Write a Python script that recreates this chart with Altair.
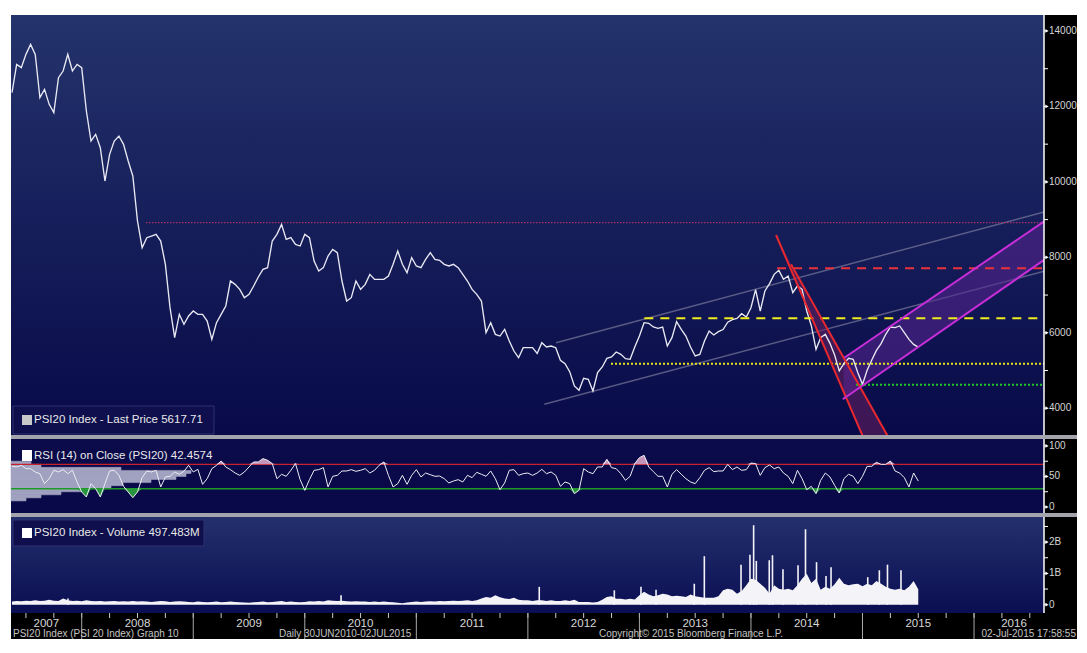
import altair as alt
import pandas as pd

# ------------------------------------------------------------------ data
# semi-monthly samples, starting mid-May 2007
T_FIRST = 2007.375
T_STEP = 1 / 24

PRICE = [
    12365, 13116, 13028, 13381, 13646, 13381, 12232, 12453, 12056, 11835,
    12763, 12939, 13381, 12939, 13116, 13028, 11879, 11084, 11260, 10907,
    10023, 10730, 11084, 11216, 10995, 10553, 10156, 8963, 8256, 8521,
    8565, 8609, 8433, 7814, 6665, 5870, 6489, 6223, 6444, 6577,
    6489, 6489, 6312, 5826, 6268, 6489, 6710, 7372, 7284, 7151,
    6930, 7019, 7240, 7478, 7681, 7726, 8433, 8609, 8874, 8477,
    8521, 8344, 8300, 8609, 8521, 7902, 7637, 7726, 8035, 8212,
    8123, 7372, 6842, 6930, 7372, 7151, 7284, 7549, 7416, 7416,
    7416, 7505, 7814, 8168, 7814, 7593, 7991, 7770, 7726, 7947,
    8123, 7947, 7920, 7814, 7770, 7814, 7726, 7549, 7372, 7151,
    7019, 6842, 6002, 6267, 5958, 5914, 6091, 5782, 5516, 5340,
    5605, 5605, 5605, 5450, 5738, 5623, 5649, 5605, 5269, 5181,
    4969, 4589, 4474, 4792, 4766, 4456, 4942, 5093, 5323, 5358,
    5490, 5428, 5314, 5296, 5623, 5914, 6268, 6250, 6153, 6118,
    6153, 5649, 5870, 6294, 6091, 5914, 5623, 5384, 5428, 5782,
    6047, 5941, 6029, 6085, 6280, 6350, 6380, 6506, 6418, 6665,
    7143, 6577, 7107, 7302, 7549, 7655, 7417, 7505, 7063, 7240,
    7152, 6577, 6180, 5561, 5870, 5959, 5720, 5411, 4987, 5181,
    5322, 5296, 4942, 4633, 5004, 5278, 5534, 5711, 5959, 6153,
    6135, 6180, 6003, 5826, 5693, 5617.71,
]

RSI = [
    66.7, 65.6, 68.3, 62.8, 62.8, 57.4, 54.6, 38.3, 46.4, 60.1,
    57.4, 61.2, 54.6, 60.1, 41.0, 24.6, 16.4, 38.3, 30.1, 16.4,
    38.3, 59.0, 60.1, 51.9, 33.9, 24.6, 15.3, 24.6, 48.1, 59.0,
    57.4, 60.1, 32.8, 49.2, 50.3, 57.4, 53.6, 58.5, 68.3, 57.4,
    61.7, 37.2, 46.4, 62.8, 68.3, 75.4, 65.6, 61.2, 55.7, 51.9,
    57.4, 65.6, 73.8, 73.8, 79.3, 76.5, 71.1, 46.4, 53.6, 50.3,
    60.1, 71.1, 44.8, 27.3, 44.8, 60.1, 61.2, 64.5, 32.8, 50.3,
    51.9, 59.0, 59.0, 61.2, 58.5, 60.1, 62.8, 55.7, 60.1, 68.3,
    73.8, 51.9, 32.8, 38.3, 51.9, 37.2, 51.9, 61.2, 49.2, 55.7,
    53.0, 50.3, 50.8, 46.4, 39.4, 42.6, 44.8, 41.0, 51.9, 48.1,
    56.8, 53.6, 50.3, 59.0, 46.4, 28.4, 39.4, 60.1, 61.2, 51.9,
    54.6, 55.7, 51.9, 55.7, 61.7, 54.6, 57.4, 51.9, 33.9, 41.0,
    38.3, 21.9, 27.3, 62.8, 57.4, 54.6, 65.6, 65.6, 78.1, 64.5,
    62.8, 54.6, 43.7, 50.3, 71.1, 80.9, 84.7, 65.6, 57.9, 50.3,
    50.3, 32.8, 53.6, 61.2, 53.6, 46.4, 41.0, 38.3, 48.1, 60.1,
    64.5, 57.9, 59.0, 59.0, 69.9, 61.2, 65.6, 60.1, 61.2, 72.1,
    71.1, 51.9, 64.5, 68.9, 62.8, 65.6, 55.7, 50.3, 38.3, 60.1,
    46.4, 28.4, 33.9, 21.9, 43.7, 55.7, 49.2, 35.5, 22.9, 46.4,
    53.6, 50.3, 38.3, 50.3, 66.7, 66.7, 73.2, 69.9, 69.9, 75.4,
    59.0, 55.7, 48.1, 32.8, 55.7, 42.4574,
]

VOLUME_B = [
    0.10, 0.12, 0.11, 0.13, 0.12, 0.14, 0.12, 0.13, 0.16, 0.13,
    0.12, 0.20, 0.14, 0.12, 0.13, 0.11, 0.14, 0.12, 0.11, 0.12,
    0.10, 0.11, 0.12, 0.10, 0.11, 0.10, 0.12, 0.10, 0.11, 0.10,
    0.09, 0.10, 0.12, 0.11, 0.09, 0.10, 0.11, 0.10, 0.09, 0.08,
    0.10, 0.09, 0.08, 0.09, 0.10, 0.08, 0.09, 0.10, 0.09, 0.08,
    0.07, 0.06, 0.08, 0.09, 0.10, 0.08, 0.09, 0.10, 0.12, 0.09,
    0.10, 0.09, 0.08, 0.09, 0.11, 0.10, 0.12, 0.10, 0.14, 0.13,
    0.12, 0.13, 0.11, 0.10, 0.11, 0.10, 0.10, 0.09, 0.10, 0.09,
    0.10, 0.09, 0.08, 0.06, 0.05, 0.07, 0.09, 0.10, 0.09, 0.10,
    0.11, 0.10, 0.12, 0.11, 0.12, 0.13, 0.12, 0.13, 0.14, 0.12,
    0.14, 0.20, 0.25, 0.22, 0.30, 0.24, 0.20, 0.18, 0.22, 0.16,
    0.14, 0.14, 0.12, 0.14, 0.14, 0.12, 0.14, 0.12, 0.12, 0.14,
    0.12, 0.16, 0.09, 0.09, 0.09, 0.07, 0.09, 0.16, 0.25, 0.27,
    0.19, 0.19, 0.17, 0.19, 0.17, 0.30, 0.41, 0.33, 0.27, 0.30,
    0.35, 0.33, 0.27, 0.29, 0.27, 0.25, 0.33, 0.27, 0.25, 0.22,
    0.22, 0.22, 0.27, 0.46, 0.51, 0.48, 0.35, 0.44, 0.62, 0.83,
    0.80, 0.67, 0.54, 0.35, 0.62, 0.51, 0.48, 0.51, 0.46, 0.62,
    0.83, 0.99, 0.69, 0.83, 0.48, 0.57, 0.51, 0.65, 0.86, 0.67,
    0.62, 0.65, 0.67, 0.59, 0.67, 0.62, 0.76, 0.67, 0.57, 0.51,
    0.48, 0.51, 0.46, 0.57, 0.76, 0.497483,
]

# single-day volume spikes (year, billions)
SPIKE_T = [2007.877, 2010.325, 2012.102, 2012.775, 2013.014, 2013.149, 2013.492, 2013.582,
           2013.911, 2013.991, 2014.024, 2014.048, 2014.164, 2014.193, 2014.287, 2014.422,
           2014.489, 2014.588, 2014.673, 2014.718, 2015.047, 2015.151, 2015.224, 2015.345]
SPIKE_B = [0.20, 0.30, 0.57, 0.46, 0.57, 0.48, 0.67, 1.55,
           1.28, 1.60, 2.54, 1.40, 1.42, 1.58, 1.13, 1.26,
           2.41, 1.36, 0.92, 1.20, 0.88, 1.10, 1.28, 1.10]

# RSI distribution histogram (bin start, relative day count)
RSI_HIST_LO = [10, 15, 20, 25, 30, 35, 40, 45, 50, 55, 60, 65, 70]
RSI_HIST_DAYS = [15, 30, 50, 70, 100, 112, 140, 165, 175, 180, 110, 30, 20]

# horizontal studies (start year, level)
LVL_2009_HIGH = (2008.576, 8920)
LVL_YELLOW_DASH = (2013.044, 6384)
LVL_YELLOW_DOT = (2012.745, 5180)
LVL_RED_DASH = (2014.234, 7709)
LVL_GREEN_DOT = (2014.942, 4624)

# trend lines (t1, v1, t2, v2)
GREY_UP = (2012.252, 5737, 2016.717, 9273)
GREY_LO = (2012.147, 4104, 2016.717, 7701)
RED_A = (2014.225, 8592, 2015.040, 3000)
RED_B = (2014.359, 7815, 2015.276, 3000)
MAG_UP = (2014.837, 5339, 2016.717, 9130)
MAG_LO = (2014.823, 4237, 2016.717, 8115)
RED_FILL_V = [3000, 7815, 8592]
RED_FILL_LEFT = [2015.040, 2014.338, 2014.225]
RED_FILL_RIGHT = [2015.276, 2014.359, 2014.225]
MAG_FILL_T = [2014.83, 2016.717]
MAG_FILL_LO = [4237, 8115]
MAG_FILL_HI = [5339, 9130]

# right-hand axes
MAIN_TICKS = [4000, 5000, 6000, 7000, 8000, 9000, 10000, 11000, 12000, 13000, 14000]
MAIN_TICK_LABELS = ["4000", "", "6000", "", "8000", "", "10000", "", "12000", "", "14000"]
RSI_TICKS = [0, 25, 50, 75, 100]
RSI_TICK_LABELS = ["0", "", "50", "", "100"]
VOL_TICKS = [0, 0.5, 1, 1.5, 2, 2.5]
VOL_TICK_LABELS = ["0", "", "1B", "", "2B", ""]

YEARS = [2007, 2008, 2009, 2010, 2011, 2012, 2013, 2014, 2015, 2016]
FOOTER = ["PSI20 Index (PSI 20 Index) Graph 10", "Daily 30JUN2010-02JUL2015",
          "Copyright\u00a9 2015 Bloomberg Finance L.P.", "02-Jul-2015 17:58:55"]

# ------------------------------------------------------------------ layout
PX_PER_YEAR = 111.54
X0 = 2007.366
T_EDGE = 2016.717
W = 1033          # plot area width
RIGHT = 1066      # right end of the frame
H_MAIN, H_RSI, H_VOL, H_AX = 420, 78, 100, 26
X_END = X0 + W / PX_PER_YEAR
FONT = "Liberation Sans"

df = pd.DataFrame({
    "t": [T_FIRST + i * T_STEP for i in range(len(PRICE))],
    "price": PRICE, "rsi": RSI, "vol": VOLUME_B,
})
one = pd.DataFrame({"k": [0]})

xs = alt.Scale(domain=[X0, X_END], nice=False, zero=False)
ys_main = alt.Scale(domain=[3290, 14424], nice=False, zero=False)
ys_rsi = alt.Scale(domain=[-9.84, 118.0], nice=False, zero=False)
ys_vol = alt.Scale(domain=[-0.265, 2.93], nice=False, zero=False)


def gradient_bg(width, height, top, bottom):
    return alt.Chart(one).mark_rect(
        fill=alt.Gradient(gradient="linear",
                          stops=[alt.GradientStop(color=top, offset=0),
                                 alt.GradientStop(color=bottom, offset=1)],
                          x1=0, x2=0, y1=0, y2=1)
    ).encode(x=alt.value(0), x2=alt.value(width), y=alt.value(0), y2=alt.value(height))


def right_axis(yscale, ticks, labels, height):
    d = pd.DataFrame({"v": ticks, "label": labels})
    major = d[d["label"] != ""]
    minor = d[d["label"] == ""]
    y = alt.Y("v:Q", scale=yscale, axis=None)
    return [
        alt.Chart(one).mark_rect(fill="#000000").encode(
            x=alt.value(W), x2=alt.value(RIGHT), y=alt.value(0), y2=alt.value(height)),
        alt.Chart(one).mark_rule(color="#ffffff", strokeWidth=1.5).encode(
            x=alt.value(W), y=alt.value(0), y2=alt.value(height)),
        alt.Chart(minor).mark_rule(color="#ffffff", strokeWidth=1).encode(
            y=y, x=alt.value(W), x2=alt.value(W + 4)),
        alt.Chart(major).mark_rule(color="#ffffff", strokeWidth=1).encode(
            y=y, x=alt.value(W), x2=alt.value(W + 3)),
        alt.Chart(major).mark_point(shape="triangle-right", filled=True, size=14, color="#ffffff",
                                    opacity=1).encode(y=y, x=alt.value(W + 3)),
        alt.Chart(major).mark_text(align="left", baseline="middle", font=FONT, fontSize=10,
                                   color="#d4d4d4").encode(
            y=y, x=alt.value(W + 5), text="label:N"),
    ]


def separator_band():
    return alt.Chart(one).mark_rect(fill="#a4a4ac").encode(
        x=alt.value(0), x2=alt.value(RIGHT), y=alt.value(0), y2=alt.value(4))


def segment(seg, color, width, yscale, dash=None, opacity=1.0):
    d = pd.DataFrame({"t1": [seg[0]], "v1": [seg[1]], "t2": [seg[2]], "v2": [seg[3]]})
    kw = dict(color=color, strokeWidth=width, clip=True, opacity=opacity)
    if dash:
        kw["strokeDash"] = dash
    return alt.Chart(d).mark_rule(**kw).encode(
        x=alt.X("t1:Q", scale=xs, axis=None), x2="t2:Q",
        y=alt.Y("v1:Q", scale=yscale, axis=None), y2="v2:Q")


def level(lv, color, width, dash):
    return segment((lv[0], lv[1], T_EDGE, lv[1]), color, width, ys_main, dash)


def legend(box, square, square_color, text, text_y):
    layers = []
    if box:
        layers.append(alt.Chart(one).mark_rect(fill="#0e0f4c", stroke="#2e3270", strokeWidth=1).encode(
            x=alt.value(box[0]), x2=alt.value(box[1]), y=alt.value(box[2]), y2=alt.value(box[3])))
    layers.append(alt.Chart(one).mark_rect(fill=square_color).encode(
        x=alt.value(square[0]), x2=alt.value(square[1]), y=alt.value(square[2]), y2=alt.value(square[3])))
    layers.append(alt.Chart(one).mark_text(align="left", baseline="middle", font=FONT, fontSize=11.5,
                                           color="#e8e8e8").encode(
        x=alt.value(23), y=alt.value(text_y), text=alt.value(text)))
    return layers


# ------------------------------------------------------------------ main price panel
red_fill = alt.Chart(pd.DataFrame({"v": RED_FILL_V, "l": RED_FILL_LEFT, "r": RED_FILL_RIGHT})).mark_area(
    orient="horizontal", color="#6a2060", opacity=0.55, clip=True).encode(
    y=alt.Y("v:Q", scale=ys_main, axis=None), x=alt.X("l:Q", scale=xs, axis=None), x2="r:Q")

mag_fill = alt.Chart(pd.DataFrame({"t": MAG_FILL_T, "lo": MAG_FILL_LO, "hi": MAG_FILL_HI})).mark_area(
    color="#5a2590", opacity=0.55, clip=True).encode(
    x=alt.X("t:Q", scale=xs, axis=None), y=alt.Y("lo:Q", scale=ys_main, axis=None), y2="hi:Q")

price_line = alt.Chart(df).mark_line(color="#e8e8f2", strokeWidth=1.35, clip=True).encode(
    x=alt.X("t:Q", scale=xs, axis=None),
    y=alt.Y("price:Q", scale=ys_main, axis=None))

main = alt.layer(
    gradient_bg(W, H_MAIN, "#24336c", "#080a48"),
    segment(GREY_UP, "#8a8aa8", 1.5, ys_main, opacity=0.6),
    segment(GREY_LO, "#8a8aa8", 1.5, ys_main, opacity=0.6),
    red_fill,
    mag_fill,
    level(LVL_2009_HIGH, "#a83268", 1.3, [1.5, 1.5]),
    level(LVL_YELLOW_DOT, "#e6e61e", 2, [2, 2]),
    level(LVL_GREEN_DOT, "#22cc22", 2, [2, 2]),
    price_line,
    level(LVL_YELLOW_DASH, "#f0ec18", 2, [9, 7]),
    level(LVL_RED_DASH, "#e8333a", 2, [9, 7]),
    segment(RED_A, "#e8282e", 2, ys_main),
    segment(RED_B, "#e8282e", 2, ys_main),
    segment(MAG_UP, "#c82ed8", 2, ys_main),
    segment(MAG_LO, "#c82ed8", 2, ys_main),
    *legend((2, 203, 391, 419), (11, 21, 400, 410), "#c8c8c8",
            f"PSI20 Index - Last Price {PRICE[-1]:.2f}", 405),
    *right_axis(ys_main, MAIN_TICKS, MAIN_TICK_LABELS, H_MAIN),
).properties(width=W, height=H_MAIN)

# ------------------------------------------------------------------ RSI panel
hist_df = pd.DataFrame({"lo": RSI_HIST_LO, "hi": [v + 5 for v in RSI_HIST_LO],
                        "d0": [0] * len(RSI_HIST_LO), "days": RSI_HIST_DAYS})
hist = alt.Chart(hist_df).mark_rect(color="#aeaecb", stroke="#aeaecb", strokeWidth=0.6,
                                    opacity=0.92).encode(
    x=alt.X("d0:Q", scale=alt.Scale(domain=[0, W], nice=False, zero=False), axis=None), x2="days:Q",
    y=alt.Y("lo:Q", scale=ys_rsi, axis=None), y2="hi:Q")


def hline(value, color, width):
    return alt.Chart(one).mark_rule(color=color, strokeWidth=width).encode(
        y=alt.Y(datum=value, scale=ys_rsi, axis=None), x=alt.value(0), x2=alt.value(W))


over = alt.Chart(df).transform_calculate(hi="max(datum.rsi, 70)").mark_area(
    color="#d8a2c6", opacity=0.9).encode(
    x=alt.X("t:Q", scale=xs, axis=None), y=alt.Y("hi:Q", scale=ys_rsi, axis=None), y2=alt.Y2(datum=70))
under = alt.Chart(df).transform_calculate(lo="min(datum.rsi, 30)").mark_area(
    color="#2a9c3c", opacity=0.95).encode(
    x=alt.X("t:Q", scale=xs, axis=None), y=alt.Y("lo:Q", scale=ys_rsi, axis=None), y2=alt.Y2(datum=30))

rsi_line = alt.Chart(df).mark_line(color="#ececf4", strokeWidth=1).encode(
    x=alt.X("t:Q", scale=xs, axis=None), y=alt.Y("rsi:Q", scale=ys_rsi, axis=None))

rsi_panel = alt.layer(
    gradient_bg(W, H_RSI, "#0b0b4a", "#09094a"),
    hist,
    hline(70, "#c8202c", 1.3),
    hline(30, "#1f9a28", 1.6),
    over, under,
    rsi_line,
    *right_axis(ys_rsi, RSI_TICKS, RSI_TICK_LABELS, H_RSI),
    separator_band(),
    *legend(None, (11, 21, 15, 26), "#ffffff", f"RSI (14) on Close (PSI20) {RSI[-1]:.4f}", 21),
).resolve_scale(x="independent").properties(width=W, height=H_RSI)

# ------------------------------------------------------------------ volume panel
vol_area = alt.Chart(df).mark_area(color="#f4f4f8").encode(
    x=alt.X("t:Q", scale=xs, axis=None),
    y=alt.Y("vol:Q", scale=ys_vol, axis=None), y2=alt.Y2(datum=0))
spikes = alt.Chart(pd.DataFrame({"t": SPIKE_T, "v": SPIKE_B})).mark_rule(
    color="#f4f4f8", strokeWidth=1.6).encode(
    x=alt.X("t:Q", scale=xs, axis=None), y=alt.Y("v:Q", scale=ys_vol, axis=None), y2=alt.Y2(datum=0))

vol_panel = alt.layer(
    gradient_bg(W, H_VOL, "#25316e", "#0a0e52"),
    vol_area, spikes,
    *right_axis(ys_vol, VOL_TICKS, VOL_TICK_LABELS, H_VOL),
    separator_band(),
    *legend((2, 193, 7, 33), (11, 21, 15, 25), "#ffffff",
            f"PSI20 Index - Volume {VOLUME_B[-1] * 1000:.3f}M", 20),
).properties(width=W, height=H_VOL)

# ------------------------------------------------------------------ time axis panel
xs_ax = alt.Scale(domain=[X0, X0 + RIGHT / PX_PER_YEAR], nice=False, zero=False)
quarters = [y + q / 4 for y in YEARS for q in range(4) if X0 <= y + q / 4 <= T_EDGE]
ax_bg = alt.Chart(one).mark_rect(fill="#000000").encode(
    x=alt.value(0), x2=alt.value(RIGHT), y=alt.value(0), y2=alt.value(H_AX))
q_ticks = alt.Chart(pd.DataFrame({"t": quarters})).mark_rule(color="#c8c8c8", strokeWidth=1).encode(
    x=alt.X("t:Q", scale=xs_ax, axis=None), y=alt.value(0), y2=alt.value(5))
y_seps = alt.Chart(pd.DataFrame({"t": YEARS[1:]})).mark_rule(color="#a8a8a8", strokeWidth=1).encode(
    x=alt.X("t:Q", scale=xs_ax, axis=None), y=alt.value(0), y2=alt.value(H_AX))
lab_df = pd.DataFrame({"t": [(max(y, X0) + min(y + 1, T_EDGE)) / 2 for y in YEARS],
                       "label": [str(y) for y in YEARS]})
y_labels = alt.Chart(lab_df).mark_text(font=FONT, fontSize=11.5, color="#d8d8d8", baseline="middle").encode(
    x=alt.X("t:Q", scale=xs_ax, axis=None), y=alt.value(11), text="label:N")
footer_x = [2, 268, 588]
footer = [alt.Chart(one).mark_text(font=FONT, fontSize=10, color="#c4c4c4", align="left",
                                   baseline="middle").encode(
    x=alt.value(fx), y=alt.value(20.5), text=alt.value(txt)) for fx, txt in zip(footer_x, FOOTER[:3])]
footer.append(alt.Chart(one).mark_text(font=FONT, fontSize=10, color="#c4c4c4", align="right",
                                       baseline="middle").encode(
    x=alt.value(RIGHT - 1), y=alt.value(20.5), text=alt.value(FOOTER[3])))

axis_panel = alt.layer(ax_bg, q_ticks, y_seps, y_labels, *footer).properties(width=RIGHT, height=H_AX)

# ------------------------------------------------------------------ assemble
chart = alt.vconcat(main, rsi_panel, vol_panel, axis_panel, spacing=0, bounds="flush").resolve_scale(
    x="independent", y="independent"
).properties(
    background="#ffffff", padding={"left": 2, "top": 6, "right": 0, "bottom": 0}
).configure_view(stroke=None)

chart.save("out.html", embed_options={"renderer": "svg", "actions": False})
